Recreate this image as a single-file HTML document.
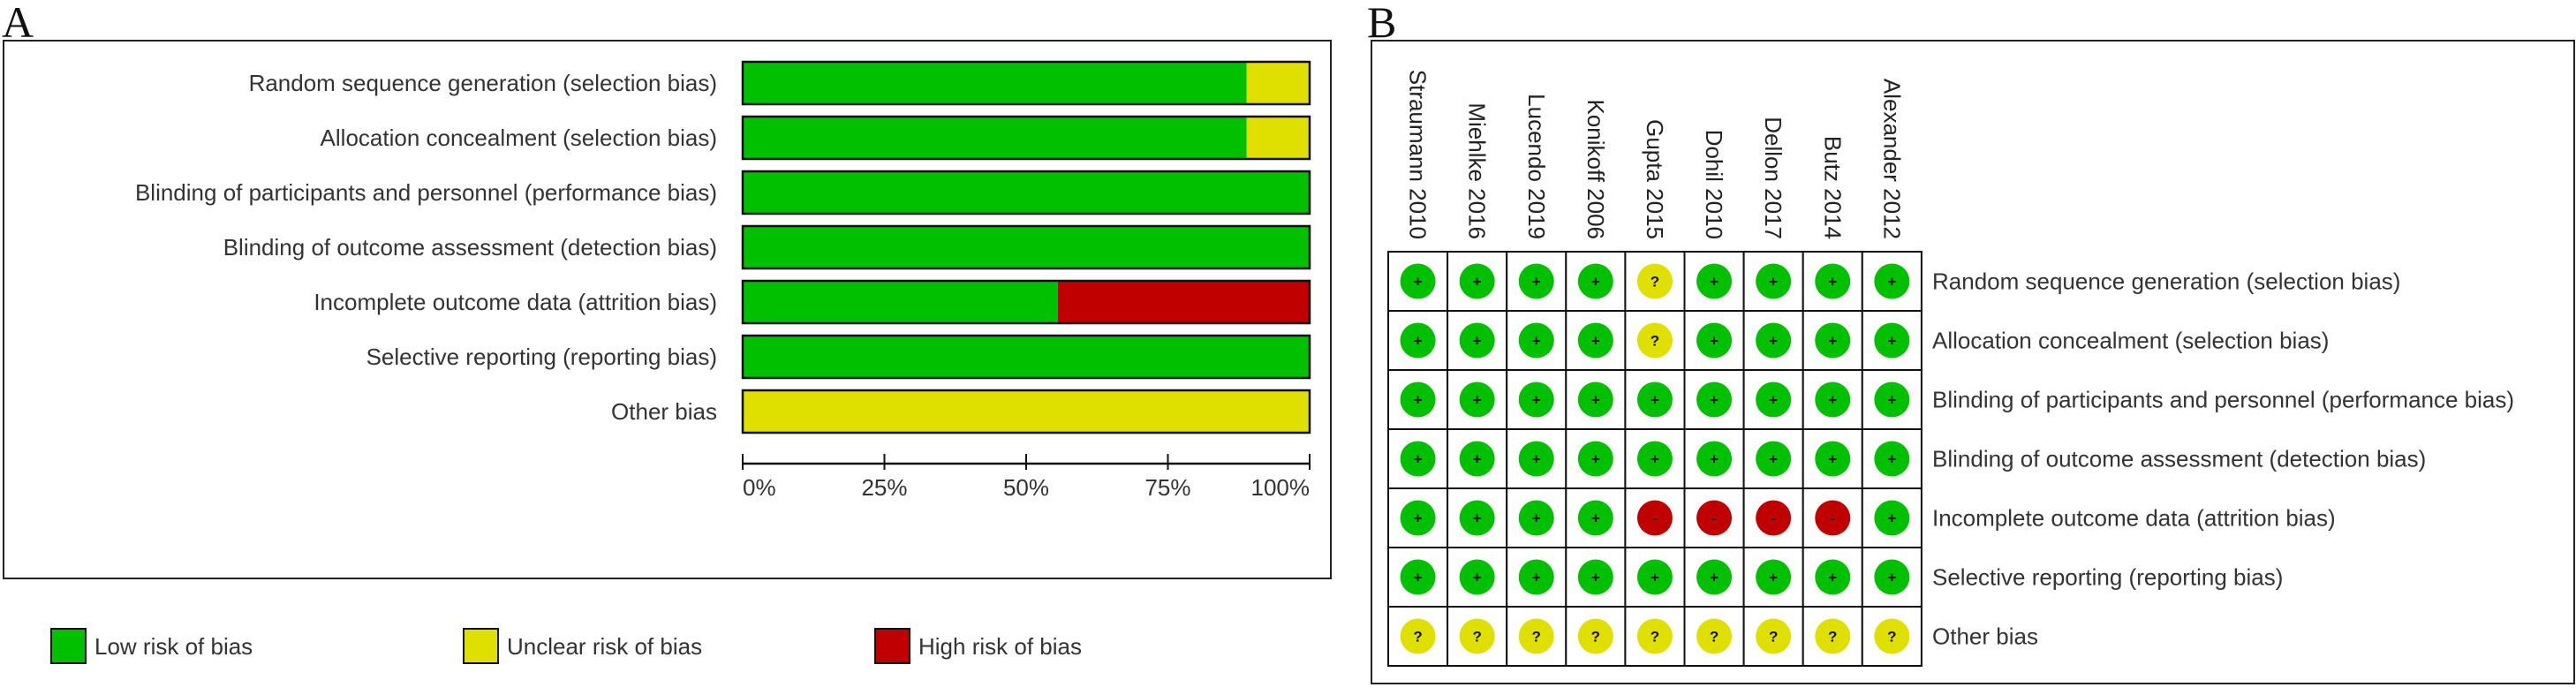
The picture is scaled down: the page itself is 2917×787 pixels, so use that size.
<!DOCTYPE html>
<html><head><meta charset="utf-8"><style>
html,body{margin:0;padding:0;background:#fff;}
svg{display:block;}
text{font-family:"Liberation Sans",Arial,sans-serif;}
</style></head>
<body>
<svg id="chart" width="2917" height="787" viewBox="0 0 2917 787" xmlns="http://www.w3.org/2000/svg">
  <text x="2" y="42" font-family="Liberation Serif" font-size="50" fill="#111" style="font-family:'Liberation Serif',serif">A</text>
  <rect x="4" y="46" width="1503" height="609" fill="#fff" stroke="#222" stroke-width="2"/>
  <text x="1548" y="42" font-size="50" fill="#111" style="font-family:'Liberation Serif',serif">B</text>
  <rect x="1553" y="46" width="1362" height="728" fill="#fff" stroke="#222" stroke-width="2"/>
  <g id="gA"></g>
  <g id="gB"></g>
  <g id="legend"></g>
</svg>
<script>
const domains = ["Random sequence generation (selection bias)","Allocation concealment (selection bias)","Blinding of participants and personnel (performance bias)","Blinding of outcome assessment (detection bias)","Incomplete outcome data (attrition bias)","Selective reporting (reporting bias)","Other bias"];
const lowPct = [88.9, 88.9, 100, 100, 55.6, 100, 0];
const unclearPct = [11.1, 11.1, 0, 0, 0, 0, 100];
const highPct = [0, 0, 0, 0, 44.4, 0, 0];
const tickValues = [0, 25, 50, 75, 100];
const tickLabels = ["0%", "25%", "50%", "75%", "100%"];
const studies = ["Straumann 2010","Miehlke 2016","Lucendo 2019","Konikoff 2006","Gupta 2015","Dohil 2010","Dellon 2017","Butz 2014","Alexander 2012"];
const judgments = [
  "+ + + + ? + + + +",
  "+ + + + ? + + + +",
  "+ + + + + + + + +",
  "+ + + + + + + + +",
  "+ + + + - - - - +",
  "+ + + + + + + + +",
  "? ? ? ? ? ? ? ? ?"
];
const legendLabels = ["Low risk of bias","Unclear risk of bias","High risk of bias"];

const NS = "http://www.w3.org/2000/svg";
const GREEN = "#00c000", YELLOW = "#e0e000", RED = "#c00000";
function mk(tag, attrs, parent, txt) {
  const e = document.createElementNS(NS, tag);
  for (const k in attrs) e.setAttribute(k, attrs[k]);
  if (txt !== undefined) e.textContent = txt;
  parent.appendChild(e);
  return e;
}
// Panel A
const gA = document.getElementById("gA");
const x0 = 841, x1 = 1483;
const xs = v => x0 + (x1 - x0) * v / 100;
const rowTop = i => 70 + i * 62;
const barH = 48;
domains.forEach((d, i) => {
  const y = rowTop(i);
  const lab = mk("text", {x: 812, y: y + barH / 2 + 9, "font-size": 26, fill: "#333", "text-anchor": "end"}, gA, d);
  
  
  let acc = 0;
  [[lowPct[i], GREEN, 'low'], [unclearPct[i], YELLOW, 'unclear'], [highPct[i], RED, 'high']].forEach(([v, c, n]) => {
    if (v <= 0) return;
    const r = mk("rect", {x: xs(acc), y: y, width: xs(acc + v) - xs(acc), height: barH, fill: c}, gA);
    
    
    acc += v;
  });
  const o = mk("rect", {x: x0, y: y, width: x1 - x0, height: barH, fill: "none", stroke: "#111", "stroke-width": 2.5}, gA);
  
  
});
const axis = mk("line", {x1: x0, x2: x1, y1: 525, y2: 525, stroke: "#111", "stroke-width": 2.5}, gA);


tickValues.forEach((t, i) => {
  const tk = mk("line", {x1: xs(t), x2: xs(t), y1: 514, y2: 532, stroke: "#111", "stroke-width": 2}, gA);
  
  
  const anchor = i === 0 ? "start" : (i === tickValues.length - 1 ? "end" : "middle");
  const tl = mk("text", {x: xs(t), y: 561, "font-size": 26, fill: "#333", "text-anchor": anchor}, gA, tickLabels[i]);
  
  
});
// Legend
const lg = document.getElementById("legend");
[GREEN, YELLOW, RED].forEach((c, i) => {
  const lx = [58, 525, 991][i];
  const sq = mk("rect", {x: lx, y: 712, width: 39, height: 39, fill: c, stroke: "#111", "stroke-width": 2}, lg);
  
  
  const t = mk("text", {x: lx + 49, y: 741, "font-size": 26, fill: "#333"}, lg, legendLabels[i]);
  
  
});
// Panel B
const gB = document.getElementById("gB");
const gx0 = 1572, gy0 = 285, cw = 67.1, ch = 67;
studies.forEach((s, j) => {
  const cx = gx0 + cw * (j + 0.5);
  const t = mk("text", {x: 0, y: 0, "font-size": 26, fill: "#222", "text-anchor": "end", transform: `translate(${cx - 9},271) rotate(90)`}, gB, s);
  
  
});
domains.forEach((d, i) => {
  const row = judgments[i].split(" ");
  row.forEach((v, j) => {
    const cx = gx0 + cw * (j + 0.5), cy = gy0 + ch * (i + 0.5);
    const cell = mk("rect", {x: gx0 + cw * j, y: gy0 + ch * i, width: cw, height: ch, fill: "#fff", stroke: "#111", "stroke-width": 2}, gB);
    
    
    const col = v === "+" ? GREEN : (v === "?" ? YELLOW : RED);
    const c = mk("ellipse", {cx: cx, cy: cy, rx: 20, ry: 20, fill: col}, gB);
    
    
    const sym = mk("text", {x: cx, y: cy + 6, "font-size": 17, "font-weight": "bold", fill: "#111", "text-anchor": "middle"}, gB, v);
    
    
  });
  const l = mk("text", {x: 2188, y: gy0 + ch * (i + 0.5) + 9, "font-size": 26, fill: "#333"}, gB, d);
  
  
});
</script>
</body></html>
